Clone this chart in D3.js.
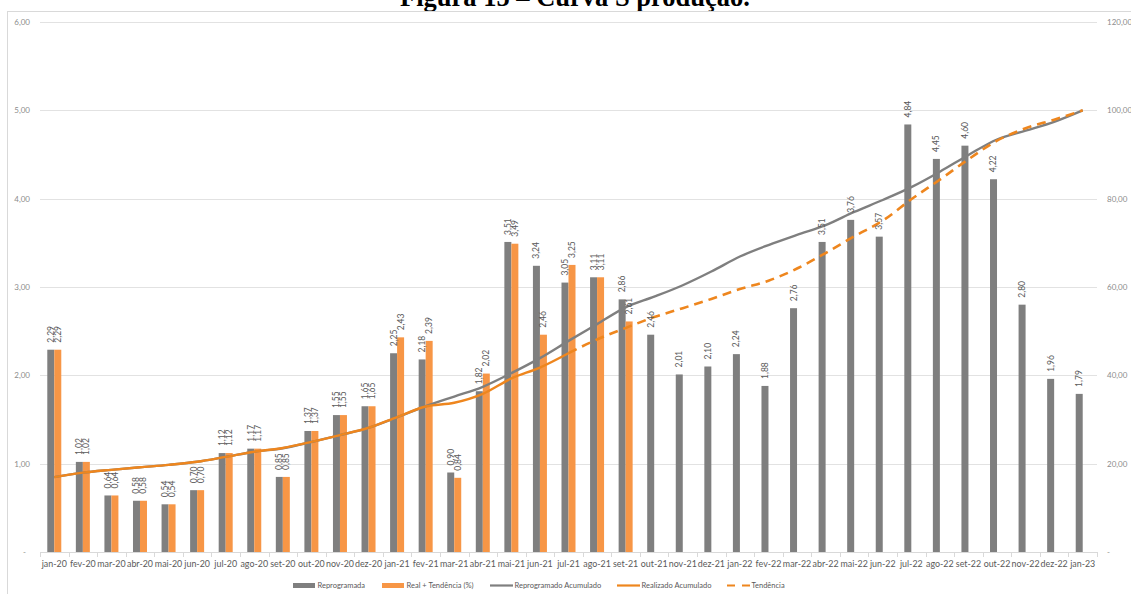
<!DOCTYPE html>
<html>
<head>
<meta charset="utf-8">
<script src="https://cdn.jsdelivr.net/npm/d3@7"></script>
<style>
  html, body { margin: 0; padding: 0; background: #ffffff; overflow: hidden; }
  svg { display: block; }
</style>
</head>
<body>
<svg id="chart" width="1131" height="594"></svg>
<script>
// Months of the schedule
const categories = ["jan-20","fev-20","mar-20","abr-20","mai-20","jun-20","jul-20","ago-20","set-20","out-20","nov-20","dez-20",
  "jan-21","fev-21","mar-21","abr-21","mai-21","jun-21","jul-21","ago-21","set-21","out-21","nov-21","dez-21",
  "jan-22","fev-22","mar-22","abr-22","mai-22","jun-22","jul-22","ago-22","set-22","out-22","nov-22","dez-22","jan-23"];

// Monthly percentages (left axis)
const reprogramada = [2.29,1.02,0.64,0.58,0.54,0.70,1.12,1.17,0.85,1.37,1.55,1.65,
  2.25,2.18,0.90,1.82,3.51,3.24,3.05,3.11,2.86,2.46,2.01,2.10,
  2.24,1.88,2.76,3.51,3.76,3.57,4.84,4.45,4.60,4.22,2.80,1.96,1.79];
const realTendencia = [2.29,1.02,0.64,0.58,0.54,0.70,1.12,1.17,0.85,1.37,1.55,1.65,
  2.43,2.39,0.84,2.02,3.49,2.46,3.25,3.11,2.61];

// Cumulative percentages (right axis)
const reprogramadoAcum = [16.94,17.96,18.60,19.18,19.72,20.42,21.54,22.71,23.50,24.90,26.45,28.10,
  30.50,33.00,35.20,37.40,40.50,43.90,47.80,51.60,55.40,57.80,60.40,63.50,
  66.90,69.50,71.80,74.00,77.00,79.70,82.60,86.10,89.90,93.40,95.40,97.40,100.00];
const realizadoAcum = [16.94,17.96,18.60,19.18,19.72,20.42,21.54,22.71,23.56,24.93,26.48,28.13,
  30.56,32.95,33.79,35.81,39.30,41.76,45.01];
const tendenciaStart = "jul-21";
const tendencia = [45.01,48.12,50.73,53.19,55.20,57.30,59.54,61.42,64.18,67.69,71.45,75.02,
  79.86,84.31,88.91,93.13,95.93,97.89,100.00];

// Axis ticks
const leftTicks = [0,1,2,3,4,5,6];
const rightTicks = [0,20,40,60,80,100,120];

const legendItems = [
  {label: "Reprogramada", type: "bar", color: "#7f7f7f"},
  {label: "Real + Tendência (%)", type: "bar", color: "#f79646"},
  {label: "Reprogramado Acumulado", type: "line", color: "#7f7f7f"},
  {label: "Realizado Acumulado", type: "line", color: "#ee861e"},
  {label: "Tendência", type: "dash", color: "#ee861e"}
];

const FONT = "Lato, 'Open Sans', sans-serif";
const GRAY = "#7f7f7f", ORANGE = "#f79646", LINE_ORANGE = "#ee861e";
const TEXT = "#595959", AXIS_TEXT = "#8c8c8c", GRID = "#e2e2e2";

const svg = d3.select("#chart");
const plot = {left: 40, right: 1097, top: 22, bottom: 552};

const fmt = v => d3.format(".2f")(v).replace(".", ",");

// Title (sits at the top edge of the page)
svg.append("text")
  .attr("x", 575).attr("y", 6)
  .attr("text-anchor", "middle")
  .style("font-family", "'Liberation Serif', 'Times New Roman', serif")
  .style("font-weight", "bold")
  .style("font-size", "26.5px")
  .attr("fill", "#000")
  .text("Figura 15 – Curva S produção.");

// Chart frame
svg.append("rect")
  .attr("x", 7.5).attr("y", 11.5)
  .attr("width", 1140).attr("height", 600)
  .attr("fill", "none").attr("stroke", "#d9d9d9");

const x = d3.scaleBand().domain(categories).range([plot.left, plot.right]).padding(0);
const yL = d3.scaleLinear().domain([0, 6]).range([plot.bottom, plot.top]);
const yR = d3.scaleLinear().domain([0, 120]).range([plot.bottom, plot.top]);
const bw = x.bandwidth() * 0.245;
const cx = c => x(c) + x.bandwidth() / 2;

// Gridlines
svg.append("g").selectAll("line")
  .data(leftTicks.filter(t => t > 0))
  .join("line")
  .attr("x1", plot.left).attr("x2", plot.right)
  .attr("y1", d => Math.round(yL(d)) + 0.5).attr("y2", d => Math.round(yL(d)) + 0.5)
  .attr("stroke", GRID).attr("stroke-width", 1);

// Left axis
const axL = svg.append("g").attr("transform", `translate(${plot.left},0)`)
  .call(d3.axisLeft(yL).tickValues(leftTicks).tickSize(0).tickPadding(10)
    .tickFormat(d => d === 0 ? "-" : fmt(d)));
axL.select(".domain").remove();
axL.selectAll("text").style("font-family", FONT).style("font-size", "8px").attr("fill", AXIS_TEXT);
axL.selectAll(".tick").filter(d => d === 0).select("text").attr("dx", "-4");

// Right axis
const axR = svg.append("g").attr("transform", `translate(${plot.right},0)`)
  .call(d3.axisRight(yR).tickValues(rightTicks).tickSize(0).tickPadding(10)
    .tickFormat(d => d === 0 ? "-" : fmt(d)));
axR.select(".domain").remove();
axR.selectAll("text").style("font-family", FONT).style("font-size", "8px").attr("fill", AXIS_TEXT);

// Bars: Reprogramada
svg.append("g").selectAll("rect")
  .data(reprogramada)
  .join("rect")
  .attr("x", (d, i) => cx(categories[i]) - bw)
  .attr("y", d => yL(d))
  .attr("width", bw)
  .attr("height", d => plot.bottom - yL(d))
  .attr("fill", GRAY);

// Bars: Real + Tendência
svg.append("g").selectAll("rect")
  .data(realTendencia)
  .join("rect")
  .attr("x", (d, i) => cx(categories[i]))
  .attr("y", d => yL(d))
  .attr("width", bw)
  .attr("height", d => plot.bottom - yL(d))
  .attr("fill", ORANGE);

// X axis
const axX = svg.append("g").attr("transform", `translate(0,${plot.bottom})`)
  .call(d3.axisBottom(x).tickSize(0).tickPadding(8.7));
axX.select(".domain").attr("stroke", "#d9d9d9").attr("d", `M${plot.left},0.5H${plot.right}`);
axX.selectAll("text").style("font-family", FONT).style("font-size", "8.9px").attr("fill", TEXT);
svg.append("g").selectAll("line")
  .data(categories.concat([null]))
  .join("line")
  .attr("x1", d => Math.round(d === null ? plot.right : x(d)) + 0.5)
  .attr("x2", d => Math.round(d === null ? plot.right : x(d)) + 0.5)
  .attr("y1", plot.bottom).attr("y2", plot.bottom + 5)
  .attr("stroke", "#d9d9d9");

// Cumulative lines
const lineR = d3.line().curve(d3.curveMonotoneX);
const pts = (vals, offset) => vals.map((v, i) => [cx(categories[i + offset]), yR(v)]);

svg.append("path")
  .attr("d", lineR(pts(reprogramadoAcum, 0)))
  .attr("fill", "none").attr("stroke", GRAY).attr("stroke-width", 2.4)
  .attr("stroke-linejoin", "round");

svg.append("path")
  .attr("d", lineR(pts(realizadoAcum, 0)))
  .attr("fill", "none").attr("stroke", LINE_ORANGE).attr("stroke-width", 2.4)
  .attr("stroke-linejoin", "round");

svg.append("path")
  .attr("d", lineR(pts(tendencia, categories.indexOf(tendenciaStart))))
  .attr("fill", "none").attr("stroke", LINE_ORANGE).attr("stroke-width", 2.6)
  .attr("stroke-dasharray", "9,6");

// Data labels (rotated)
const labelG = svg.append("g")
  .style("font-family", FONT).style("font-size", "8.5px").attr("fill", TEXT);
function addLabels(vals, dx) {
  labelG.selectAll(null)
    .data(vals)
    .join("text")
    .attr("transform", (d, i) => `translate(${cx(categories[i]) + dx},${yL(d) - 7}) rotate(-90)`)
    .attr("dy", "0.35em")
    .text(d => fmt(d));
}
addLabels(reprogramada, -bw / 2);
addLabels(realTendencia, bw / 2);

// Legend
const legend = svg.append("g").attr("transform", "translate(0,585.5)")
  .style("font-family", FONT).style("font-size", "7.5px");
const legendX = [293, 382, 490, 617, 727];
legendItems.forEach((it, i) => {
  const g = legend.append("g").attr("transform", `translate(${legendX[i]},0)`);
  if (it.type === "bar") {
    g.append("rect").attr("x", 0).attr("y", -2.5).attr("width", 22).attr("height", 5).attr("fill", it.color);
  } else {
    g.append("line").attr("x1", 0).attr("x2", 23).attr("y1", 0).attr("y2", 0)
      .attr("stroke", it.color).attr("stroke-width", 2.2)
      .attr("stroke-dasharray", it.type === "dash" ? "8,7" : null);
  }
  g.append("text").attr("x", 24.5).attr("dy", "0.35em").attr("fill", TEXT).text(it.label);
});
</script>
</body>
</html>
